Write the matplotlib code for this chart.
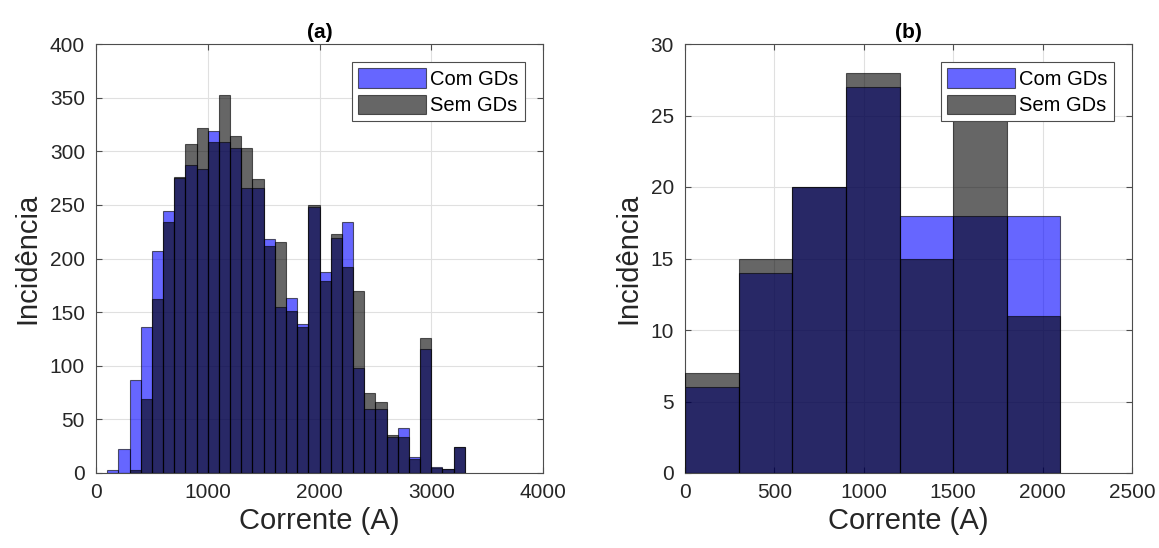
import matplotlib.pyplot as plt
import numpy as np

plt.rcParams['font.family'] = ['Liberation Sans', 'DejaVu Sans']

# (a) histogram, bins of 100 A from 100 to 3300
edges_a = np.arange(100, 3400, 100)
com_a = [3, 22, 87, 136, 207, 244, 275, 287, 283, 319, 309, 303, 266, 266, 218, 155,
         163, 139, 248, 187, 219, 234, 98, 60, 60, 34, 42, 15, 116, 6, 4, 24]
sem_a = [0, 0, 3, 69, 162, 234, 276, 307, 322, 309, 352, 314, 303, 274, 212, 215,
         151, 136, 250, 179, 223, 192, 170, 75, 66, 35, 34, 13, 126, 5, 4, 24]

# (b) histogram, bins of 300 A
edges_b = np.arange(0, 2400, 300)
com_b = [6, 14, 20, 27, 18, 18, 18]
sem_b = [7, 15, 20, 28, 15, 25, 11]

labels = ["Com GDs", "Sem GDs"]
txt = "#262626"

fig = plt.figure(figsize=(11.59, 5.48), dpi=100)
ax1 = fig.add_axes([96/1159, 1-473/548, 447/1159, 429/548])
ax2 = fig.add_axes([685/1159, 1-473/548, 447/1159, 429/548])


def draw(ax, edges, com, sem, xlim, ylim, yticks, xticks, title):
    w = np.diff(edges)
    ax.bar(edges[:-1], com, width=w, align="edge", color="blue", alpha=0.6,
           edgecolor="black", linewidth=0.8, label=labels[0], zorder=2)
    ax.bar(edges[:-1], sem, width=w, align="edge", color="black", alpha=0.6,
           edgecolor="black", linewidth=0.8, label=labels[1], zorder=3)
    ax.set_xlim(xlim)
    ax.set_ylim(ylim)
    ax.set_xticks(xticks)
    ax.set_yticks(yticks)
    ax.grid(True, color="#e0e0e0", linewidth=0.8, zorder=0)
    ax.set_axisbelow(True)
    ax.tick_params(direction="in", top=True, right=True, labelsize=15,
                   colors="#4d4d4d", labelcolor=txt, length=4)
    ax.tick_params(axis="y", pad=8)
    ax.tick_params(axis="x", pad=7)
    for s in ax.spines.values():
        s.set_color("#4d4d4d")
    ax.set_xlabel("Corrente (A)", fontsize=21, color=txt, labelpad=4)
    ax.set_ylabel("Incidência", fontsize=21, color=txt, labelpad=6)
    ax.set_title(title, fontsize=15, fontweight="bold", color="black", pad=4)
    leg = ax.legend(loc="upper right", fontsize=14.5, fancybox=False, framealpha=1,
                    edgecolor="#4d4d4d", handlelength=3.4, handleheight=1.1,
                    borderaxespad=0.9, labelspacing=0.3, handletextpad=0.2,
                    borderpad=0.3)
    leg.get_frame().set_linewidth(0.8)


draw(ax1, edges_a, com_a, sem_a, (0, 4000), (0, 400), np.arange(0, 401, 50),
     np.arange(0, 4001, 1000), "(a)")
draw(ax2, edges_b, com_b, sem_b, (0, 2500), (0, 30), np.arange(0, 31, 5),
     np.arange(0, 2501, 500), "(b)")

fig.savefig("out.png", dpi=100)
